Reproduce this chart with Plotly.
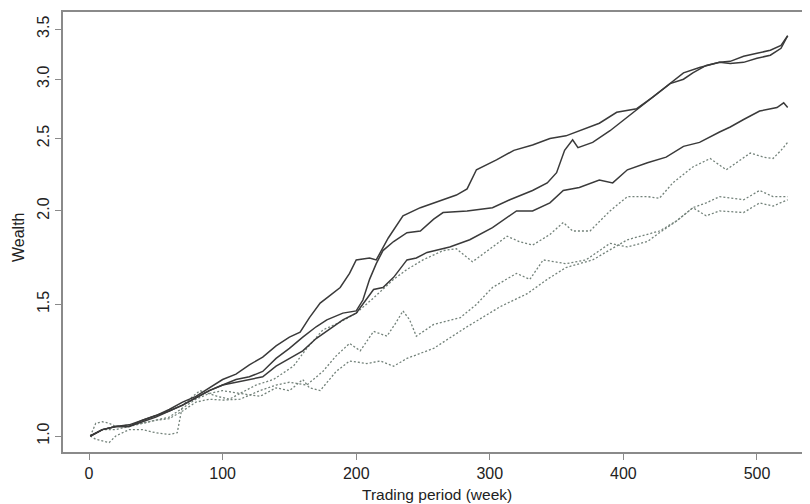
import plotly.graph_objects as go
import math

# ---- data (week, wealth) ----
s1_weeks = [1,10,20,30,40,50,60,70,80,90,100,110,120,130,140,150,158,165,173,180,188,195,200,210,215,224,235,248,265,275,283,290,305,318,332,345,357,367,382,395,410,422,435,445,452,462,472,480,490,500,510,518,523]
s1_vals = [1.0,1.02,1.03,1.035,1.05,1.065,1.085,1.11,1.13,1.16,1.19,1.21,1.245,1.275,1.32,1.356,1.377,1.44,1.506,1.54,1.58,1.65,1.72,1.73,1.72,1.84,1.97,2.02,2.07,2.10,2.14,2.27,2.34,2.41,2.45,2.50,2.52,2.56,2.62,2.71,2.74,2.84,2.96,3.0,3.06,3.13,3.16,3.17,3.22,3.25,3.28,3.33,3.43]

s2_weeks = [1,10,20,30,40,50,60,70,80,90,100,110,120,130,140,150,160,170,178,190,200,205,210,215,220,228,238,248,258,265,283,302,315,332,343,350,356,362,366,377,390,403,412,425,435,445,457,472,480,490,500,510,518,523]
s2_vals = [1.0,1.02,1.03,1.03,1.045,1.06,1.08,1.10,1.125,1.15,1.17,1.19,1.20,1.22,1.27,1.31,1.356,1.40,1.43,1.46,1.47,1.52,1.62,1.70,1.77,1.82,1.87,1.88,1.95,1.99,2.0,2.02,2.07,2.13,2.18,2.25,2.41,2.49,2.43,2.47,2.56,2.67,2.75,2.87,2.96,3.06,3.11,3.16,3.15,3.16,3.20,3.23,3.30,3.43]

s3_weeks = [1,10,20,30,40,50,60,70,80,90,100,110,120,130,140,150,160,170,180,190,200,205,213,220,228,238,245,253,270,285,302,320,332,345,355,367,382,392,403,418,432,445,457,472,480,490,502,515,520,523]
s3_vals = [1.0,1.02,1.03,1.03,1.05,1.065,1.08,1.10,1.125,1.15,1.17,1.18,1.19,1.20,1.24,1.27,1.30,1.35,1.39,1.43,1.46,1.50,1.57,1.58,1.63,1.72,1.73,1.76,1.79,1.83,1.90,2.0,2.0,2.05,2.13,2.15,2.20,2.18,2.27,2.32,2.36,2.44,2.47,2.55,2.59,2.65,2.72,2.75,2.79,2.75]

d1_weeks = [1,5,10,15,20,30,40,50,60,70,80,90,100,113,125,138,153,163,175,188,200,213,228,238,250,265,275,287,300,313,322,332,345,355,362,375,390,403,418,427,437,452,465,477,495,505,512,518,523]
d1_vals = [1.0,1.04,1.045,1.04,1.03,1.035,1.04,1.05,1.06,1.09,1.12,1.14,1.15,1.14,1.17,1.19,1.24,1.31,1.386,1.42,1.46,1.53,1.62,1.67,1.72,1.77,1.78,1.71,1.78,1.85,1.82,1.80,1.86,1.93,1.88,1.88,2.0,2.09,2.09,2.08,2.18,2.29,2.35,2.27,2.39,2.36,2.35,2.41,2.47]

d2_weeks = [1,5,10,20,30,40,50,60,70,80,90,100,113,128,140,150,163,175,185,195,203,213,223,230,235,240,245,258,278,290,302,320,330,340,357,372,390,403,418,427,440,452,462,472,490,502,512,523]
d2_vals = [1.0,1.01,1.02,1.02,1.03,1.04,1.05,1.055,1.08,1.11,1.12,1.117,1.12,1.15,1.17,1.18,1.17,1.22,1.28,1.33,1.30,1.38,1.36,1.42,1.47,1.43,1.36,1.41,1.44,1.50,1.58,1.65,1.62,1.72,1.70,1.72,1.81,1.79,1.82,1.87,1.94,2.02,2.05,2.09,2.07,2.13,2.09,2.09]

d3_weeks = [1,5,10,15,20,30,40,50,60,66,70,75,83,96,105,113,128,140,150,160,165,173,185,195,208,218,228,238,258,283,308,328,343,357,377,403,427,440,452,462,472,490,502,512,523]
d3_vals = [1.0,0.99,0.985,0.98,1.0,1.02,1.02,1.01,1.005,1.01,1.10,1.12,1.15,1.13,1.12,1.14,1.13,1.16,1.15,1.19,1.16,1.15,1.22,1.26,1.25,1.26,1.24,1.27,1.31,1.40,1.49,1.55,1.62,1.68,1.72,1.83,1.88,1.94,2.02,1.97,2.0,1.99,2.05,2.03,2.07]

x_ticks = [0, 100, 200, 300, 400, 500]
y_ticks = [1.0, 1.5, 2.0, 2.5, 3.0, 3.5]
y_tick_labels = ["1.0", "1.5", "2.0", "2.5", "3.0", "3.5"]

SOLID = "#3a3a3a"
DOT = "#73827a"
FRAME = "#8a8a8a"

fig = go.Figure()
for wk, vals in [(d1_weeks, d1_vals), (d2_weeks, d2_vals), (d3_weeks, d3_vals)]:
    fig.add_trace(go.Scatter(x=wk, y=vals, mode="lines",
                             line=dict(color=DOT, width=1.3, dash="2px,2px"),
                             showlegend=False))
for wk, vals in [(s1_weeks, s1_vals), (s2_weeks, s2_vals), (s3_weeks, s3_vals)]:
    fig.add_trace(go.Scatter(x=wk, y=vals, mode="lines",
                             line=dict(color=SOLID, width=1.5),
                             showlegend=False))

FAMILY = "Liberation Sans, Arial, sans-serif"

# the page body has an 8px margin, so the figure is shifted by 8px;
# size and margins compensate so that the plot box lands where the reference has it
fig.update_layout(
    width=802, height=496,
    margin=dict(l=55, r=0, t=4, b=52),
    paper_bgcolor="white", plot_bgcolor="white",
    font=dict(family=FAMILY, size=16, color="#222"),
    xaxis=dict(range=[-19.5, 539.7], tickvals=x_ticks, showgrid=False, zeroline=False,
               showline=True, linecolor=FRAME, linewidth=2, mirror=True,
               ticks="outside", ticklen=6, tickcolor=FRAME, tickwidth=1,
               automargin=False),
    yaxis=dict(type="log", range=[math.log10(0.952), math.log10(3.69)],
               tickvals=y_ticks, ticktext=y_tick_labels, tickangle=-90,
               showgrid=False, zeroline=False,
               showline=True, linecolor=FRAME, linewidth=2,
               ticks="outside", ticklen=6, tickcolor=FRAME, tickwidth=1,
               automargin=False),
    annotations=[
        dict(text="Trading period (week)", xref="paper", yref="paper",
             x=(437 - 63) / 747, y=(452 - 494) / 440, xanchor="center", yanchor="middle",
             showarrow=False, font=dict(family=FAMILY, size=15.5, color="#222")),
        dict(text="Wealth", xref="paper", yref="paper",
             x=(18 - 63) / 747, y=(452 - 237) / 440, xanchor="center", yanchor="middle",
             textangle=-90, showarrow=False, font=dict(family=FAMILY, size=16, color="#222")),
    ],
)

fig.write_html("out.html")
